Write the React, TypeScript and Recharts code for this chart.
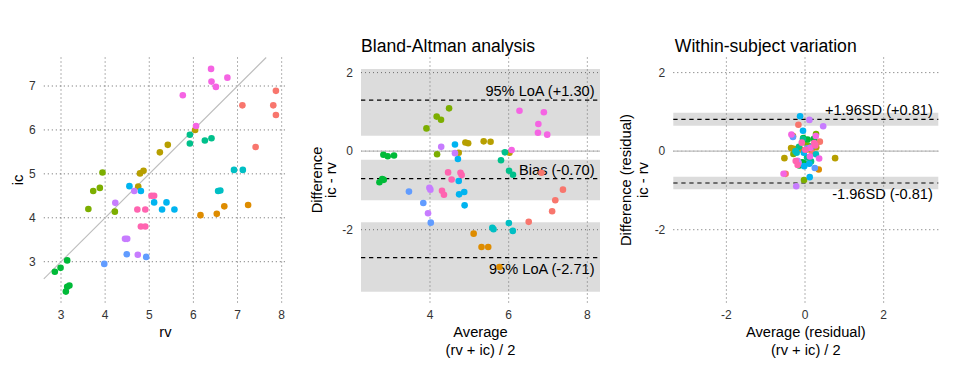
import React from 'react';
import { ScatterChart, Scatter, XAxis, YAxis, CartesianGrid, ReferenceLine, ReferenceArea } from 'recharts';

// ---- data ----
const COLORS = ['#F8766D', '#DE8C00', '#B79F00', '#7CAE00', '#00BA38', '#00C08B', '#00BFC4', '#00B4F0', '#619CFF', '#C77CFF', '#F564E3', '#FF64B0'];

const SUBJECT = [
  0, 0, 0, 0, 0,
  1, 1, 1, 1,
  2, 2, 2, 2, 2, 2,
  3, 3, 3, 3, 3,
  4, 4, 4, 4, 4, 4,
  5, 5, 5, 5,
  6, 6, 6, 6,
  7, 7, 7, 7, 7, 7,
  8, 8, 8,
  9, 9, 9, 9, 9,
  10, 10, 10, 10, 10, 10,
  11, 11, 11, 11, 11, 11,
];
const RV = [
  7.11, 7.81, 7.87, 7.87, 7.41,
  6.16, 6.53, 6.70, 7.24,
  4.75, 4.79, 4.87, 5.24, 5.42, 6.04,
  3.62, 3.73, 3.88, 3.94, 4.22,
  2.86, 2.99, 3.14, 3.11, 3.14, 3.19,
  5.92, 5.92, 6.26, 6.41,
  6.92, 7.12, 6.56, 6.61,
  4.55, 4.81, 5.11, 5.29, 5.39, 5.57,
  3.98, 4.49, 4.93,
  4.23, 4.66, 4.45, 4.50, 4.74,
  5.76, 6.40, 6.41, 6.51, 6.77, 6.06,
  4.73, 4.91, 4.81, 4.91, 5.05, 5.11,
];
const IC = [
  6.56, 6.56, 6.34, 6.89, 5.61,
  4.06, 4.09, 4.26, 4.29,
  4.71, 5.01, 5.07, 5.49, 5.66, 6.00,
  4.20, 4.61, 4.68, 5.03, 4.14,
  2.77, 2.86, 3.03, 2.32, 2.43, 2.46,
  5.89, 5.69, 5.76, 5.81,
  5.09, 5.09, 4.61, 4.62,
  4.72, 4.61, 4.35, 4.19, 4.35, 4.19,
  2.95, 3.17, 3.11,
  4.34, 4.61, 3.52, 3.52, 3.16,
  6.79, 7.39, 7.10, 6.98, 7.19, 6.09,
  4.19, 4.19, 3.80, 3.80, 4.50, 4.50,
];

const X1_TICKS = [3, 4, 5, 6, 7, 8];
const Y1_TICKS = [3, 4, 5, 6, 7];
const X2_TICKS = [4, 6, 8];
const Y2_TICKS = [-2, 0, 2];
const X3_TICKS = [-2, 0, 2];
const Y3_TICKS = [-2, 0, 2];

const BIAS = -0.70;
const LOA_UPPER = 1.30;
const LOA_LOWER = -2.71;
const LOA_UPPER_CI = [0.39, 2.09];
const BIAS_CI = [-1.25, -0.22];
const LOA_LOWER_CI = [-3.58, -1.81];

const SD_UPPER = 0.81;
const SD_LOWER = -0.81;
const SD_UPPER_CI = [0.65, 0.98];
const SD_LOWER_CI = [-0.97, -0.65];

// ---- derived tables ----
const pointsRaw = RV.map((rv, i) => ({ rv, ic: IC[i], s: SUBJECT[i] }));
const pointsBA = pointsRaw.map((p) => ({ avg: (p.rv + p.ic) / 2, diff: p.ic - p.rv, s: p.s }));
const subjMeans = COLORS.map((_, s) => {
  const pts = pointsBA.filter((p) => p.s === s);
  const n = pts.length || 1;
  return {
    avg: pts.reduce((a, p) => a + p.avg, 0) / n,
    diff: pts.reduce((a, p) => a + p.diff, 0) / n,
  };
});
const pointsRes = pointsBA.map((p) => ({ ravg: p.avg - subjMeans[p.s].avg, rdiff: p.diff - subjMeans[p.s].diff, s: p.s }));

// ---- layout ----
const W = 960;
const H = 384;
const TOP = 57.5;
const BOTTOM = 303;
const YAXIS_W = 40;
const XAXIS_H = 30;
const FONT = '"Liberation Sans", Arial, Helvetica, sans-serif';
const TICK = { fontSize: 12, fill: '#333333', fontFamily: FONT };
const GRID = '#666666';

const P1 = { l: 43.8, r: 287, x: [2.61, 8.121], y: [2.06, 7.649] };
const P2 = { l: 361, r: 600, x: [2.246, 8.322], y: [-3.866, 2.385] };
const P3 = { l: 673.3, r: 938.3, x: [-3.35, 3.39], y: [-3.866, 2.385] };

const margin = (p: { l: number; r: number }) => ({
  top: TOP,
  bottom: H - BOTTOM - XAXIS_H,
  left: p.l - YAXIS_W,
  right: W - p.r,
});

const Dot = (props: any) => (
  <circle cx={props.cx} cy={props.cy} r={3.3} fill={COLORS[props.payload.s]} />
);

const LineLabel = ({ viewBox, text, below }: any) => {
  if (!viewBox) return null;
  const x = viewBox.x + viewBox.width - 5.5;
  const y = below ? viewBox.y + 16 : viewBox.y - 4;
  return (
    <text x={x} y={y} textAnchor="end" fontSize={14.6} fill="#000" fontFamily={FONT}>
      {text}
    </text>
  );
};

const fmt = (v: number) => (v > 0 ? '+' : '') + v.toFixed(2);

const bandFill = '#7f7f7f';
const bandOpacity = 0.27;

const abs: React.CSSProperties = { position: 'absolute', left: 0, top: 0 };

export default function App() {
  return (
    <div style={{ position: 'absolute', left: 0, top: 0, width: W, height: H, background: '#fff', fontFamily: FONT }}>
      {/* Panel 1: rv vs ic */}
      <div style={abs}>
        <ScatterChart width={W} height={H} margin={margin(P1)}>
          <CartesianGrid stroke={GRID} strokeDasharray="1 3" horizontalValues={Y1_TICKS} verticalValues={X1_TICKS} />
          <XAxis type="number" dataKey="rv" domain={P1.x} ticks={X1_TICKS} allowDataOverflow axisLine={false} tickLine={false} tickMargin={1} height={XAXIS_H} tick={TICK} interval={0} />
          <YAxis type="number" dataKey="ic" domain={P1.y} ticks={Y1_TICKS} allowDataOverflow axisLine={false} tickLine={false} width={YAXIS_W} tick={TICK} interval={0} />
          <ReferenceLine
            segment={[{ x: P1.x[0], y: P1.x[0] }, { x: P1.y[1], y: P1.y[1] }]}
            stroke="#bdbdbd"
            strokeWidth={1.1}
          />
          <Scatter data={pointsRaw} shape={Dot} isAnimationActive={false} />
        </ScatterChart>
      </div>

      {/* Panel 2: Bland-Altman */}
      <div style={abs}>
        <ScatterChart width={W} height={H} margin={margin(P2)}>
          <CartesianGrid stroke={GRID} strokeDasharray="1 3" horizontalValues={Y2_TICKS} verticalValues={X2_TICKS} />
          <XAxis type="number" dataKey="avg" domain={P2.x} ticks={X2_TICKS} allowDataOverflow axisLine={false} tickLine={false} tickMargin={1} height={XAXIS_H} tick={TICK} interval={0} />
          <YAxis type="number" dataKey="diff" domain={P2.y} ticks={Y2_TICKS} allowDataOverflow axisLine={false} tickLine={false} width={YAXIS_W} tick={TICK} interval={0} />
          <ReferenceArea y1={LOA_UPPER_CI[0]} y2={LOA_UPPER_CI[1]} fill={bandFill} fillOpacity={bandOpacity} stroke="none" />
          <ReferenceArea y1={BIAS_CI[0]} y2={BIAS_CI[1]} fill={bandFill} fillOpacity={bandOpacity} stroke="none" />
          <ReferenceArea y1={LOA_LOWER_CI[0]} y2={LOA_LOWER_CI[1]} fill={bandFill} fillOpacity={bandOpacity} stroke="none" />
          <ReferenceLine y={0} stroke="#bdbdbd" strokeWidth={1.1} />
          <Scatter data={pointsBA} shape={Dot} isAnimationActive={false} />
          <ReferenceLine y={LOA_UPPER} stroke="#000" strokeWidth={1.1} strokeDasharray="4.3 3.7" label={<LineLabel text={`95% LoA (${fmt(LOA_UPPER)})`} />} />
          <ReferenceLine y={BIAS} stroke="#000" strokeWidth={1.1} strokeDasharray="4.3 3.7" label={<LineLabel text={`Bias (${fmt(BIAS)})`} />} />
          <ReferenceLine y={LOA_LOWER} stroke="#000" strokeWidth={1.1} strokeDasharray="4.3 3.7" label={<LineLabel text={`95% LoA (${fmt(LOA_LOWER)})`} below />} />
        </ScatterChart>
      </div>

      {/* Panel 3: within-subject residuals */}
      <div style={abs}>
        <ScatterChart width={W} height={H} margin={margin(P3)}>
          <CartesianGrid stroke={GRID} strokeDasharray="1 3" horizontalValues={Y3_TICKS} verticalValues={X3_TICKS} />
          <XAxis type="number" dataKey="ravg" domain={P3.x} ticks={X3_TICKS} allowDataOverflow axisLine={false} tickLine={false} tickMargin={1} height={XAXIS_H} tick={TICK} interval={0} />
          <YAxis type="number" dataKey="rdiff" domain={P3.y} ticks={Y3_TICKS} allowDataOverflow axisLine={false} tickLine={false} width={YAXIS_W} tick={TICK} interval={0} />
          <ReferenceArea y1={SD_UPPER_CI[0]} y2={SD_UPPER_CI[1]} fill={bandFill} fillOpacity={bandOpacity} stroke="none" />
          <ReferenceArea y1={SD_LOWER_CI[0]} y2={SD_LOWER_CI[1]} fill={bandFill} fillOpacity={bandOpacity} stroke="none" />
          <ReferenceLine y={0} stroke="#bdbdbd" strokeWidth={1.1} />
          <Scatter data={pointsRes} shape={Dot} isAnimationActive={false} />
          <ReferenceLine y={SD_UPPER} stroke="#000" strokeWidth={1.1} strokeDasharray="4.3 3.7" label={<LineLabel text={`+1.96SD (${fmt(SD_UPPER)})`} />} />
          <ReferenceLine y={SD_LOWER} stroke="#000" strokeWidth={1.1} strokeDasharray="4.3 3.7" label={<LineLabel text={`-1.96SD (${fmt(SD_LOWER)})`} below />} />
        </ScatterChart>
      </div>

      {/* Titles and axis titles */}
      <svg width={W} height={H} style={{ ...abs, pointerEvents: 'none' }} fontFamily={FONT}>
        <text x={P2.l} y={51.5} fontSize={17.6} fill="#000">Bland-Altman analysis</text>
        <text x={P3.l + 1.5} y={51.5} fontSize={17.6} fill="#000">Within-subject variation</text>

        <text x={(P1.l + P1.r) / 2} y={337} fontSize={14.7} textAnchor="middle" fill="#000">rv</text>
        <text x={(P2.l + P2.r) / 2} y={337} fontSize={14.7} textAnchor="middle" fill="#000">Average</text>
        <text x={(P2.l + P2.r) / 2} y={354.5} fontSize={14.7} textAnchor="middle" fill="#000">(rv + ic) / 2</text>
        <text x={(P3.l + P3.r) / 2} y={337} fontSize={14.7} textAnchor="middle" fill="#000">Average (residual)</text>
        <text x={(P3.l + P3.r) / 2} y={354.5} fontSize={14.7} textAnchor="middle" fill="#000">(rv + ic) / 2</text>

        <text transform="translate(23,180) rotate(-90)" fontSize={14.7} textAnchor="middle" fill="#000">ic</text>
        <text transform="translate(321.7,180) rotate(-90)" fontSize={14.7} textAnchor="middle" fill="#000">Difference</text>
        <text transform="translate(335.7,180) rotate(-90)" fontSize={14.7} textAnchor="middle" fill="#000">ic - rv</text>
        <text transform="translate(631,180) rotate(-90)" fontSize={14.7} textAnchor="middle" fill="#000">Difference (residual)</text>
        <text transform="translate(648,180) rotate(-90)" fontSize={14.7} textAnchor="middle" fill="#000">ic - rv</text>
      </svg>
    </div>
  );
}
